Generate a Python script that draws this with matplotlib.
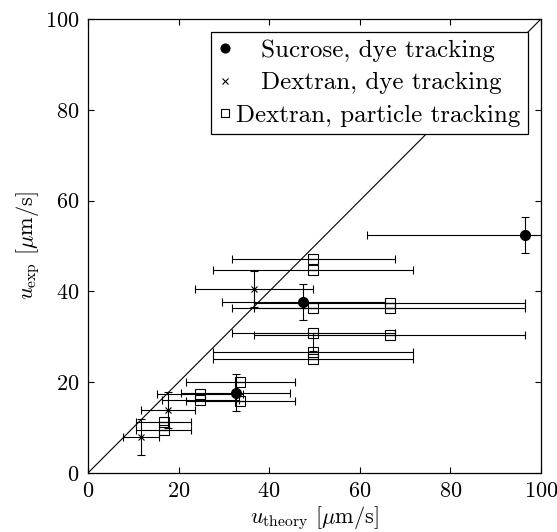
import matplotlib
matplotlib.use("Agg")
import numpy as np
import matplotlib.pyplot as plt

# ── data ──────────────────────────────────────────────────────────────────────
sucrose_x    = [32.6, 47.5, 96.5]
sucrose_y    = [17.7, 37.6, 52.5]
sucrose_xerr = [12, 18, 35]
sucrose_yerr = [4, 4, 4]

dye_x    = [11.7, 17.7, 36.6]
dye_y    = [7.9, 13.8, 40.5]
dye_xerr = [4, 6, 13]
dye_yerr = [4, 4, 4]

part_x    = [16.7, 16.7, 24.8, 24.8, 33.6, 33.6, 49.7, 49.7, 49.7, 66.6, 66.6, 49.7, 66.6, 49.7, 49.7]
part_y    = [11.2, 9.5, 17.5, 16.0, 20.0, 15.9, 47.1, 44.8, 36.3, 37.4, 36.3, 30.9, 30.5, 26.7, 25.0]
part_xerr = [6, 6, 9.5, 8.5, 12, 12, 18, 22, 18, 30, 30, 18, 30, 22, 22]
part_yerr_lo = [0, 0, 0, 0, 0, 0, 0, 0, 0, 0, 0, 4, 0, 0, 0]
part_yerr_hi = [0, 0, 0, 0, 0, 0, 0, 0, 0, 0, 0, 0, 0, 0, 0]

# leading spaces roughly centre the shorter labels, as in the original legend
labels = ["   Sucrose, dye tracking", "   Dextran, dye tracking", "Dextran, particle tracking"]
ticks = [0, 20, 40, 60, 80, 100]

plt.rcParams["font.family"] = ["cmr10"]
plt.rcParams["mathtext.fontset"] = "cm"
plt.rcParams["axes.formatter.use_mathtext"] = True
plt.rcParams["font.size"] = 16

fig = plt.figure(figsize=(5.57, 5.32), dpi=100)
ax = fig.add_axes([0.158, 0.111, 0.813, 0.853])

ax.plot([0, 100], [0, 100], color="black", linewidth=0.8, zorder=1)

eb_kw = dict(ecolor="black", elinewidth=0.8, capsize=2.8, capthick=0.8,
             linestyle="none", color="black")

ax.errorbar(sucrose_x, sucrose_y, xerr=sucrose_xerr, yerr=sucrose_yerr,
            marker="o", markersize=7, label=labels[0], zorder=3, **eb_kw)
ax.errorbar(dye_x, dye_y, xerr=dye_xerr, yerr=dye_yerr,
            marker="x", markersize=5, markeredgewidth=0.8, label=labels[1],
            zorder=3, **eb_kw)
ax.errorbar(part_x, part_y, xerr=part_xerr, yerr=[part_yerr_lo, part_yerr_hi],
            marker="s", markersize=6.5, markerfacecolor="none",
            markeredgewidth=0.8, label=labels[2], zorder=3, **eb_kw)

ax.set_xlim(0, 100)
ax.set_ylim(0, 100)
ax.set_xticks(ticks)
ax.set_yticks(ticks)
ax.tick_params(direction="in", top=True, right=True, length=4, width=0.8,
               labelsize=16, pad=6)
for s in ax.spines.values():
    s.set_linewidth(0.9)

ax.set_xlabel(r"$u_{\mathrm{theory}}$ [$\mu$m/s]", fontsize=16, labelpad=2)
ax.set_ylabel(r"$u_{\mathrm{exp}}$ [$\mu$m/s]", fontsize=16, labelpad=2)

handles, lbls = ax.get_legend_handles_labels()
handles = [h[0] for h in handles]
leg = ax.legend(handles, lbls, loc="upper right", bbox_to_anchor=(0.972, 0.972),
                fontsize=18, frameon=True, fancybox=False, edgecolor="black",
                framealpha=1, borderpad=0.3, handlelength=0.5,
                handletextpad=0.2, labelspacing=0.4, borderaxespad=0,
                markerscale=0.9)
leg.get_frame().set_linewidth(0.9)

fig.savefig("out.png", dpi=100)
